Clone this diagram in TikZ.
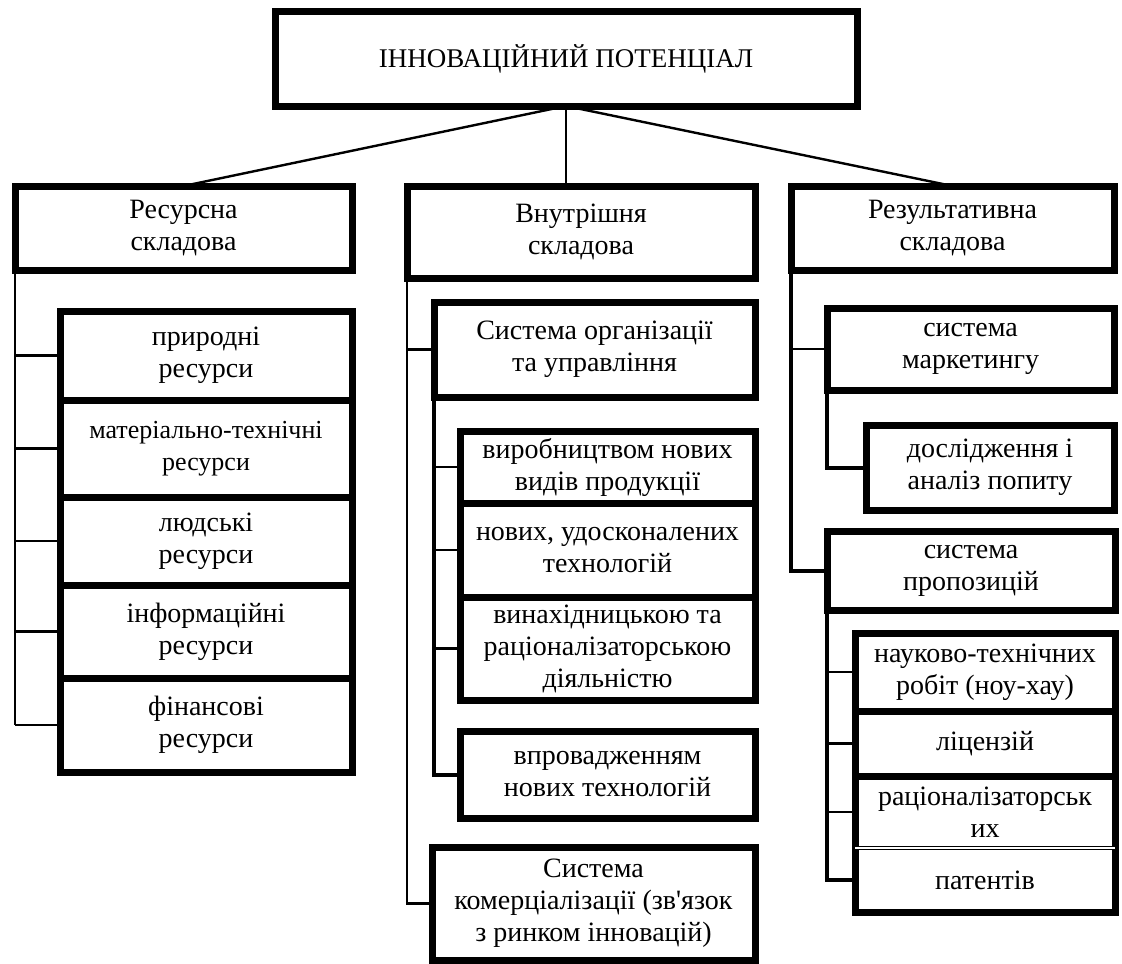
\documentclass[tikz,border=0pt]{standalone}
\usepackage{fontspec}
\setmainfont{Liberation Serif}
\usetikzlibrary{positioning}

\begin{document}
\begin{tikzpicture}[x=0.5pt, y=-0.5pt, font=\fontsize{14}{16}\selectfont,
    box/.style={draw, line width=3.5pt, outer sep=0pt, inner sep=2pt, align=center},
    plain/.style={box, draw=none},
    link/.style={line width=1.2pt},
    heavylink/.style={line width=2pt}]
    \useasboundingbox (0,0) rectangle (1122,963);

    \node (top) [box, minimum width=291pt, minimum height=47pt, font=\fontsize{13.5}{16}\selectfont] at (566,59) {ІННОВАЦІЙНИЙ ПОТЕНЦІАЛ};
    \node (res) [box, minimum width=168.5pt, minimum height=42pt] at (183.5,228) {Ресурсна\\складова};
    \node (vnu) [box, minimum width=174pt, minimum height=46pt] at (581,232) {Внутрішня\\складова};
    \node (rez) [box, minimum width=161.5pt, minimum height=42pt] at (952.5,228) {Результативна\\складова};

    \node (pryr) [box, minimum width=146pt, minimum height=44.5pt, anchor=north] at (206,311) {природні\\ресурси};
    \node (mat) [box, below=0pt of pryr, minimum width=146pt, minimum height=48.5pt, font=\fontsize{13}{16}\selectfont] {матеріально-технічні\\ресурси};
    \node (lud) [box, below=0pt of mat, minimum width=146pt, minimum height=44pt] {людські\\ресурси};
    \node (inf) [box, below=0pt of lud, minimum width=146pt, minimum height=46.5pt] {інформаційні\\ресурси};
    \node (fin) [box, below=0pt of inf, minimum width=146pt, minimum height=47pt] {фінансові\\ресурси};

    \node (sorg) [box, minimum width=160.5pt, minimum height=47.5pt] at (594.5,349.5) {Система організації\\та управління};
    \node (vyr) [box, minimum width=147.5pt, minimum height=36pt, anchor=north] at (607.5,431) {виробництвом нових\\видів продукції};
    \node (nov) [box, below=0pt of vyr, minimum width=147.5pt, minimum height=47pt] {нових, удосконалених\\технологій};
    \node (vyn) [box, below=0pt of nov, minimum width=147.5pt, minimum height=51.5pt] {винахідницькою та\\раціоналізаторською\\діяльністю};
    \node (vpr) [box, minimum width=147.5pt, minimum height=43.5pt] at (607.5,774.5) {впровадженням\\нових технологій};
    \node (skom) [box, minimum width=161.5pt, minimum height=56.5pt] at (593.5,903.5) {Система\\комерціалізації (зв\textquotesingle язок\\з ринком інновацій)};

    \node (smar) [box, minimum width=143.5pt, minimum height=41pt] at (970.5,349) {система\\маркетингу};
    \node (dosl) [box, minimum width=124pt, minimum height=42.5pt] at (990,467.5) {дослідження і\\аналіз попиту};
    \node (sprop) [box, minimum width=144pt, minimum height=39.5pt] at (971,570.5) {система\\пропозицій};
    \node (nauk) [box, minimum width=130pt, minimum height=39pt, anchor=north] at (985,633) {науково-технічних\\робіт (ноу-хау)};
    \node (lic) [box, below=0pt of nauk, minimum width=130pt, minimum height=32.5pt] {ліцензій};
    \node (rac) [plain, below=0pt of lic, minimum width=130pt, minimum height=36pt] {раціоналізаторськ\\их};
    \node (pat) [plain, below=0pt of rac, minimum width=130pt, minimum height=32pt] {патентів};
    \draw [line width=3.5pt] (rac.north west) rectangle (pat.south east);
    \draw [double, line width=0.5pt] (rac.south west) -- (rac.south east);

    \draw [link] (top.south) -- (res.north);
    \draw [link] (top.south) -- (top.south |- vnu.north);
    \draw [link] (top.south) -- (rez.north);

    \draw [link] (res.south west) -- (res.south west |- fin.west);
    \foreach \n in {pryr, mat, lud, inf, fin}
        \draw [link] (res.south west |- \n.west) -- (\n.west);

    \draw [link] (vnu.south west) |- (skom.west);
    \draw [link] (vnu.south west |- sorg.west) -- (sorg.west);
    \draw [heavylink] (sorg.south west) |- (vpr.west);
    \foreach \n in {vyr, nov, vyn}
        \draw [link] (sorg.south west |- \n.west) -- (\n.west);

    \draw [heavylink] (rez.south west) |- (sprop.west);
    \draw [link] (rez.south west |- smar.west) -- (smar.west);
    \draw [heavylink] (smar.south west) |- (dosl.west);
    \draw [heavylink] (sprop.south west) |- (pat.west);
    \foreach \n in {nauk, lic, rac}
        \draw [link] (sprop.south west |- \n.west) -- (\n.west);
\end{tikzpicture}
\end{document}
